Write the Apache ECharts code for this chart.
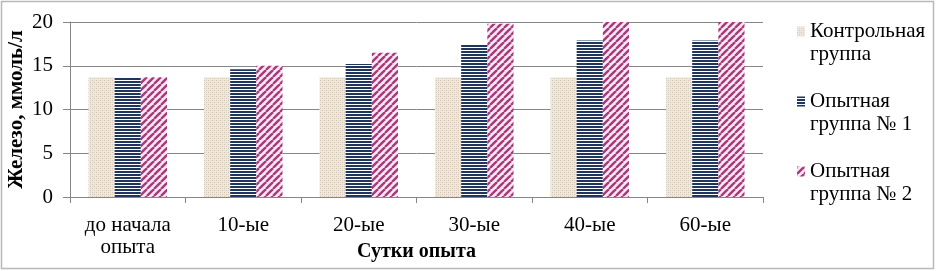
<!DOCTYPE html>
<html><head><meta charset="utf-8">
<script src="https://cdn.jsdelivr.net/npm/echarts@6/dist/echarts.min.js"></script>
<style>html,body{margin:0;padding:0;background:#fff}#c{width:936px;height:271px}</style>
</head><body><div id="c"></div>
<script>
const categories = ['до начала\nопыта', '10-ые', '20-ые', '30-ые', '40-ые', '60-ые'];
const seriesNames = ['Контрольная\nгруппа', 'Опытная\nгруппа № 1', 'Опытная\nгруппа № 2'];
const control = [13.7, 13.7, 13.7, 13.7, 13.7, 13.7];
const group1 = [13.7, 14.6, 15.2, 17.5, 17.9, 17.9];
const group2 = [13.7, 15.0, 16.5, 19.8, 20.0, 20.0];
const yTicks = [0, 5, 10, 15, 20];

function tile(w, h, draw) {
  const c = document.createElement('canvas');
  c.width = w; c.height = h;
  draw(c.getContext('2d'));
  return c;
}
const dotPat = tile(4, 4, g => {
  g.fillStyle = '#efe8df'; g.fillRect(0, 0, 4, 4);
  g.fillStyle = '#d2c4b2';
  g.fillRect(0, 0, 1, 1); g.fillRect(2, 2, 1, 1);
  g.fillStyle = '#e0d6c9';
  g.fillRect(2, 0, 1, 1); g.fillRect(0, 2, 1, 1);
});
const hPat = tile(4, 3, g => {
  g.fillStyle = '#ffffff'; g.fillRect(0, 0, 4, 3);
  g.fillStyle = '#1f355e'; g.fillRect(0, 0, 4, 2);
});
const dPat = tile(7, 7, g => {
  g.fillStyle = '#fbe8f4'; g.fillRect(0, 0, 7, 7);
  g.strokeStyle = '#a8397a'; g.lineWidth = 2.4;
  for (let k = -1; k <= 1; k++) {
    g.beginPath(); g.moveTo(k * 7, 7); g.lineTo(k * 7 + 7, 0); g.stroke();
  }
});

const font = '"Liberation Serif", "Times New Roman", serif';
const chart = echarts.init(document.getElementById('c'), null, { renderer: 'canvas' });
const values = [control, group1, group2];
const pats = [dotPat, hPat, dPat];
const legendIcon = 'path://M0,0h0.01v0.01h-0.01zM0,6.5h8v10h-8zM0,45.99h0.01v0.01h-0.01z';
chart.setOption({
  animation: false,
  textStyle: { fontFamily: font },
  graphic: [{ type: 'rect', shape: { x: 1.5, y: 1.5, width: 932, height: 267 }, style: { fill: 'none', stroke: '#b8b8b8', lineWidth: 1.5 } }],
  grid: { left: 70, right: 173, top: 22, bottom: 74, outerBoundsMode: 'none', containLabel: false },
  legend: {
    orient: 'vertical', left: 792, top: 15, itemWidth: 8, itemHeight: 46, itemGap: 24,
    icon: legendIcon,
    textStyle: { fontFamily: font, fontSize: 21, color: '#000', lineHeight: 23 },
    data: seriesNames
  },
  xAxis: {
    type: 'category', data: categories,
    name: 'Сутки опыта', nameLocation: 'middle', nameGap: 45, nameMoveOverlap: false,
    nameTextStyle: { fontFamily: font, fontSize: 20, fontWeight: 'bold', color: '#000' },
    axisLine: { lineStyle: { color: '#868686' } },
    axisTick: { show: true, length: 6, lineStyle: { color: '#868686' } },
    axisLabel: { fontFamily: font, fontSize: 21, color: '#000', lineHeight: 22, margin: 17 }
  },
  yAxis: {
    type: 'value', min: 0, max: 20, interval: 5,
    name: 'Железо, ммоль/л', nameLocation: 'middle', nameGap: 43, nameMoveOverlap: false,
    nameTextStyle: { fontFamily: font, fontSize: 21, fontWeight: 'bold', color: '#000' },
    axisLine: { show: true, lineStyle: { color: '#868686' } },
    axisTick: { show: true, length: 7, lineStyle: { color: '#868686' } },
    splitLine: { lineStyle: { color: '#868686' } },
    axisLabel: { fontFamily: font, fontSize: 21, color: '#000', margin: 17,
      formatter: v => yTicks.includes(v) ? String(v) : '' }
  },
  series: seriesNames.map((n, i) => ({
    name: n, type: 'bar', data: values[i],
    barGap: '0%', barCategoryGap: '32%',
    itemStyle: { color: { image: pats[i], repeat: 'repeat' } }
  }))
});
</script></body></html>
